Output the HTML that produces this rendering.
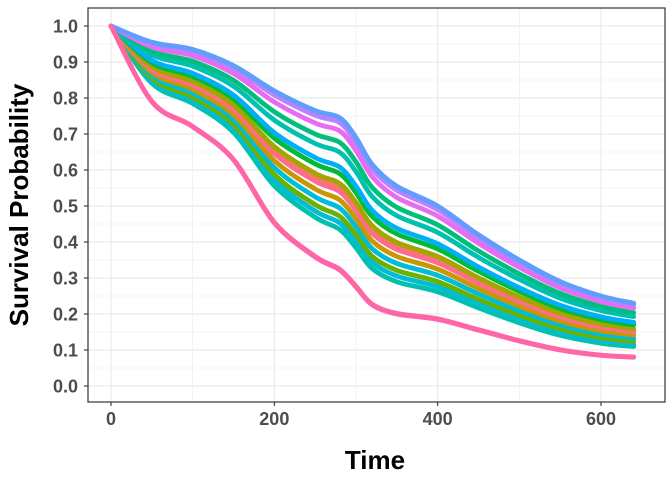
<!DOCTYPE html>
<html><head><style>
body{margin:0;background:#fff}
svg{display:block}
text{font-family:"Liberation Sans",sans-serif;font-weight:bold}
</style></head><body>
<svg id="s" width="672" height="480" viewBox="0 0 672 480" xmlns="http://www.w3.org/2000/svg">
<rect x="0" y="0" width="672" height="480" fill="#fff"/>
<g id="grid"></g>
<g id="curves" fill="none" stroke-linecap="round" stroke-linejoin="round"></g>
<rect x="88" y="8" width="577" height="394" fill="none" stroke="#333" stroke-width="1.2"/>
<g id="labels" fill="#4d4d4d" font-size="18"></g>
<text x="375" y="469" text-anchor="middle" font-size="26" fill="#000">Time</text>
<text transform="translate(28,205) rotate(-90)" text-anchor="middle" font-size="26" fill="#000">Survival Probability</text>
</svg>
<script>
(function(){
const NS="http://www.w3.org/2000/svg";
const X=t=>111+t*490/600, Y=v=>386-v*360;
const g=document.getElementById('grid'),lb=document.getElementById('labels'),cv=document.getElementById('curves');
function el(p,tag,a,txt){const e=document.createElementNS(NS,tag);for(const k in a)e.setAttribute(k,a[k]);if(txt!==undefined)e.textContent=txt;p.appendChild(e);return e;}
for(let i=-1;i<=21;i++){const v=i*0.05;const y=Y(v);if(y<8||y>402)continue;
 el(g,'line',{x1:88,x2:665,y1:y,y2:y,stroke:'#ebebeb','stroke-width':(i%2!==0)?0.6:1.2});}
for(let t=-100;t<=700;t+=100){const x=X(t);if(x<88||x>665)continue;
 el(g,'line',{x1:x,x2:x,y1:8,y2:402,stroke:'#ebebeb','stroke-width':((t/100)%2!==0)?0.6:1.2});}
for(let i=0;i<=10;i++){const y=Y(i/10);el(lb,'line',{x1:84,x2:88,y1:y,y2:y,stroke:'#333','stroke-width':1.1});
 el(lb,'text',{x:78,y:y+6.5,'text-anchor':'end'},(i/10).toFixed(1));}
for(let t=0;t<=600;t+=200){const x=X(t);el(lb,'line',{x1:x,x2:x,y1:402,y2:406,stroke:'#333','stroke-width':1.1});
 el(lb,'text',{x:x,y:425,'text-anchor':'middle'},String(t));}
const T=[0,50,100,150,200,250,280,300,320,350,400,450,500,550,600,640];
const topV=[1,.955,.935,.89,.82,.765,.745,.69,.615,.555,.50,.42,.35,.29,.25,.23];
const botV=[1,.79,.72,.628,.453,.358,.322,.275,.225,.20,.185,.155,.125,.10,.085,.08];
function path(w){const pts=T.map((t,i)=>{const we=w>=0.99?w:Math.min(0.95,w*(1+0.18*t/640));return [X(t),Y(topV[i]+we*(botV[i]-topV[i]))];});
 let d='M'+pts[0][0]+','+pts[0][1];
 for(let i=0;i<pts.length-1;i++){const p0=pts[Math.max(0,i-1)],p1=pts[i],p2=pts[i+1],p3=pts[Math.min(pts.length-1,i+2)];
  const c1=[p1[0]+(p2[0]-p0[0])/6,p1[1]+(p2[1]-p0[1])/6],c2=[p2[0]-(p3[0]-p1[0])/6,p2[1]-(p3[1]-p1[1])/6];
  d+=' C'+c1[0].toFixed(1)+','+c1[1].toFixed(1)+' '+c2[0].toFixed(1)+','+c2[1].toFixed(1)+' '+p2[0].toFixed(1)+','+p2[1].toFixed(1);}
 return d;}
const C=[[0.68,'#00C0AF'],[0.64,'#00BCD8'],[0.6,'#6BB100'],[0.55,'#00BCD8'],[0.5,'#C99800'],[0.45,'#FF67A4'],[0.43,'#F8766D'],[0.4,'#A3A500'],[0.34,'#00BA38'],[0.3,'#00B0F6'],[0.21,'#00C0AF'],[0.15,'#00BF7D'],[0.08,'#E76BF3'],[0.03,'#B983FF'],[0,'#619CFF'],[1,'#FD61D1'],[0.995,'#FF67A4']];
C.forEach(function(a){el(cv,'path',{d:path(a[0]),stroke:a[1],'stroke-width':4.8});});
})();
</script>
</body></html>
